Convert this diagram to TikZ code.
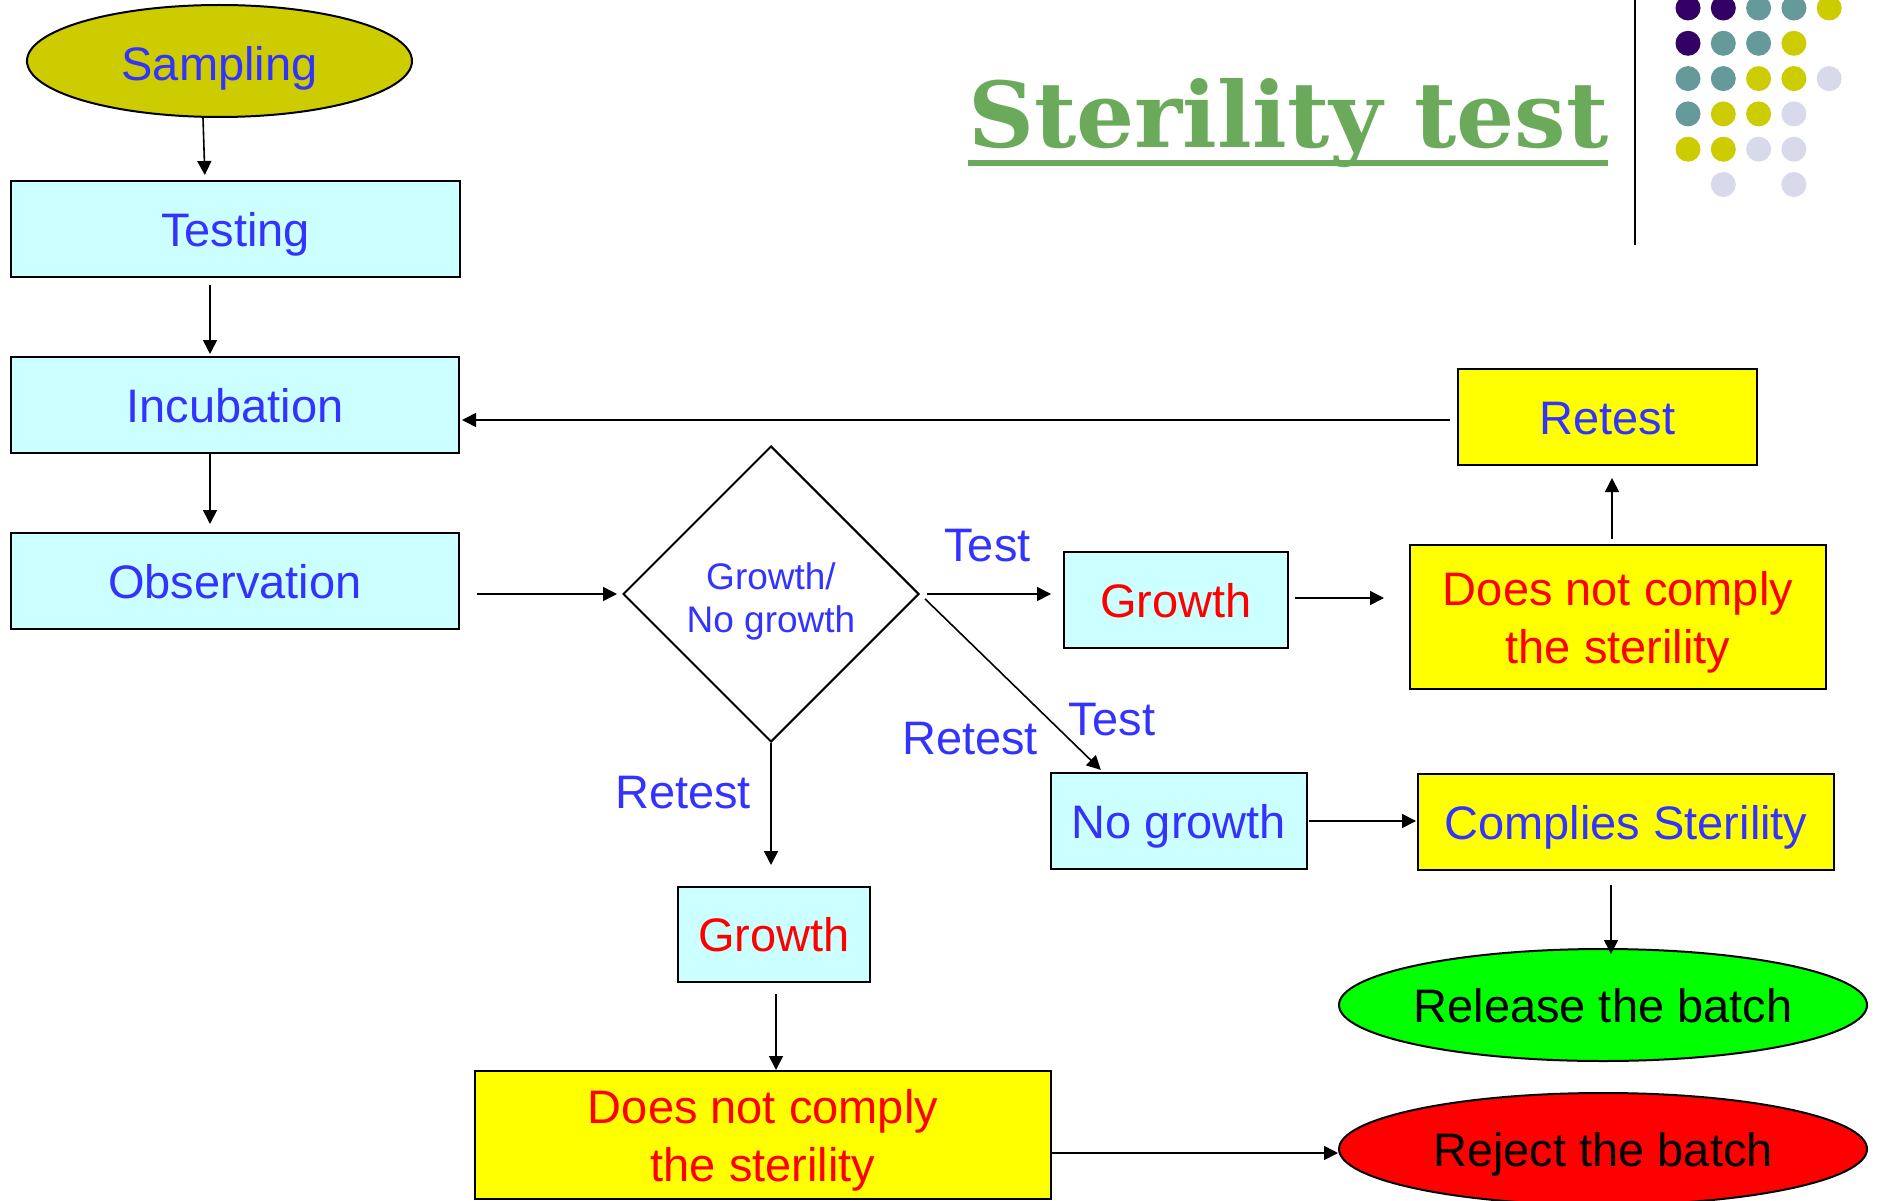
\documentclass[tikz,border=0pt]{standalone}
\usepackage{fontspec}
\setmainfont{Liberation Sans}
\newfontfamily\titlefont{DejaVu Serif}
\usetikzlibrary{shapes.geometric,arrows.meta,calc}
\definecolor{tblue}{RGB}{51,51,255}
\definecolor{tred}{RGB}{255,0,0}
\definecolor{cyanfill}{RGB}{204,255,255}
\definecolor{yel}{RGB}{255,255,0}
\definecolor{olivefill}{RGB}{204,204,0}
\definecolor{relgreen}{RGB}{0,255,0}
\definecolor{titlegreen}{RGB}{107,170,91}
\definecolor{dotP}{RGB}{51,0,102}
\definecolor{dotT}{RGB}{102,153,153}
\definecolor{dotY}{RGB}{204,204,0}
\definecolor{dotL}{RGB}{217,217,236}
\begin{document}
\begin{tikzpicture}[x=1pt,y=-1pt,
  arr/.style={-{Triangle[length=14pt,width=14pt]}, line width=1.6pt},
  bx/.style={draw, line width=2pt, inner sep=0pt, font=\fontsize{47}{58}\selectfont, text=tblue, align=center},
  cyanbx/.style={bx, fill=cyanfill},
  yelbx/.style={bx, fill=yel},
  oneline/.style={text height=34pt, text depth=0pt},
  ell/.style={ellipse, draw, line width=2pt, inner sep=0pt, font=\fontsize{47}{58}\selectfont, text height=34pt, text depth=0pt},
  lbl/.style={font=\fontsize{47}{58}\selectfont, text=tblue, anchor=base, inner sep=0pt}
]
\useasboundingbox (0,0) rectangle (1879,1201);

% title and decoration
\node[anchor=base west, inner sep=0pt, text=titlegreen] (title) at (968,148) {\resizebox{640pt}{69pt}{\titlefont\bfseries Sterility test}};
\fill[titlegreen] (968,160) rectangle (1608,166);
\draw[line width=2pt] (1635,0) -- (1635,245);
\foreach \c/\r/\col in {0/0/dotP,1/0/dotP,2/0/dotT,3/0/dotT,4/0/dotY,
  0/1/dotP,1/1/dotT,2/1/dotT,3/1/dotY,
  0/2/dotT,1/2/dotT,2/2/dotY,3/2/dotY,4/2/dotL,
  0/3/dotT,1/3/dotY,2/3/dotY,3/3/dotL,
  0/4/dotY,1/4/dotY,2/4/dotL,3/4/dotL,
  1/5/dotL,3/5/dotL}
  \fill[\col] ({1688+35.3*\c},{8+35.3*\r}) circle[radius=12.5];

% nodes
\node[ell, fill=olivefill, text=tblue, text height=39pt, minimum width=385pt, minimum height=112pt] (sampling) at (219.5,61) {Sampling};
\node[cyanbx, oneline, minimum width=449pt, minimum height=96pt] (testing) at (235.5,229) {Testing};
\node[cyanbx, oneline, minimum width=448pt, minimum height=96pt] (incubation) at (235,405) {Incubation};
\node[cyanbx, oneline, minimum width=448pt, minimum height=96pt] (observation) at (235,581) {Observation};
\node[diamond, draw, line width=2pt, minimum width=296pt, minimum height=296pt, inner sep=0pt, text=tblue, font=\fontsize{37}{43}\selectfont, align=center] (dia) at (771,594) {\rule{0pt}{41pt}Growth/\\No growth};
\node[cyanbx, oneline, text=tred, minimum width=224pt, minimum height=96pt] (growth1) at (1176,600) {Growth};
\node[yelbx, text=tred, minimum width=416pt, minimum height=144pt] (dnc1) at (1618,617) {\rule{0pt}{44pt}Does not comply\\ the sterility};
\node[yelbx, oneline, minimum width=299pt, minimum height=96pt] (retest) at (1607.5,417) {Retest};
\node[cyanbx, oneline, minimum width=256pt, minimum height=96pt] (nogrowth) at (1179,821) {No growth};
\node[yelbx, oneline, minimum width=416pt, minimum height=96pt] (complies) at (1626,822) {Complies Sterility};
\node[ell, fill=relgreen, text=black, minimum width=528pt, minimum height=112pt] (release) at (1603,1005) {\makebox[300pt]{Release the batch}};
\node[ell, fill=tred, text=black, minimum width=528pt, minimum height=112pt] (reject) at (1603,1149) {\makebox[300pt]{Reject the batch}};
\node[cyanbx, oneline, text=tred, minimum width=192pt, minimum height=95pt] (growth2) at (774,934.5) {Growth};
\node[yelbx, text=tred, minimum width=576pt, minimum height=128pt] (dnc2) at (763,1135) {\rule{0pt}{44pt}Does not comply\\ the sterility};

% labels
\node[lbl] (t1) at (987.5,561) {Test};
\node[lbl] (t2) at (1112,735) {Test};
\node[lbl] (r1) at (970,754) {Retest};
\node[lbl] (r2) at (683,808) {Retest};

% connectors
\draw[arr, shorten >=5pt] ([xshift=-16.5pt]sampling.south) -- ([xshift=-30.5pt]testing.north);
\draw[arr, shorten <=7pt, shorten >=2pt] ([xshift=-25.5pt]testing.south) -- ([xshift=-25pt]incubation.north);
\draw[arr, shorten >=8pt] ([xshift=-25pt]incubation.south) -- ([xshift=-25pt]observation.north);
\draw[arr, shorten <=17pt, shorten >=5pt] (observation.east |- dia.west) -- (dia.west);
\draw[arr, shorten <=7pt, shorten >=12pt] (dia.east) -- (dia.east -| growth1.west);
\draw[arr, shorten <=6pt, shorten >=25pt] ([yshift=2pt]growth1.east) -- ([yshift=2pt]growth1.east -| dnc1.west);
\draw[arr, shorten <=5pt, shorten >=12pt] ([xshift=-6pt]dnc1.north) -- ([xshift=-6pt]dnc1.north |- retest.south);
\draw[arr, shorten <=7pt, shorten >=2pt] ([yshift=-3pt]retest.west) -- ([yshift=-3pt]retest.west -| incubation.east);
\draw[arr, shorten <=7pt, shorten >=3pt] (dia.east) -- ([xshift=-76pt]nogrowth.north);
\draw[arr, shorten >=21pt] (dia.south) -- (dia.south |- growth2.north);
\draw[arr, shorten <=11pt] ([xshift=2pt]growth2.south) -- ([xshift=2pt]growth2.south |- dnc2.north);
\draw[arr, shorten <=1pt, shorten >=1pt] (nogrowth.east) -- (nogrowth.east -| complies.west);
\draw[arr, shorten <=14pt] ([xshift=-15pt]complies.south) -- ([xshift=-15pt, yshift=-6pt]complies.south |- release.north);
\draw[arr] ([yshift=-18pt]dnc2.east) -- ([yshift=-18pt]dnc2.east -| reject.west);
\end{tikzpicture}
\end{document}
